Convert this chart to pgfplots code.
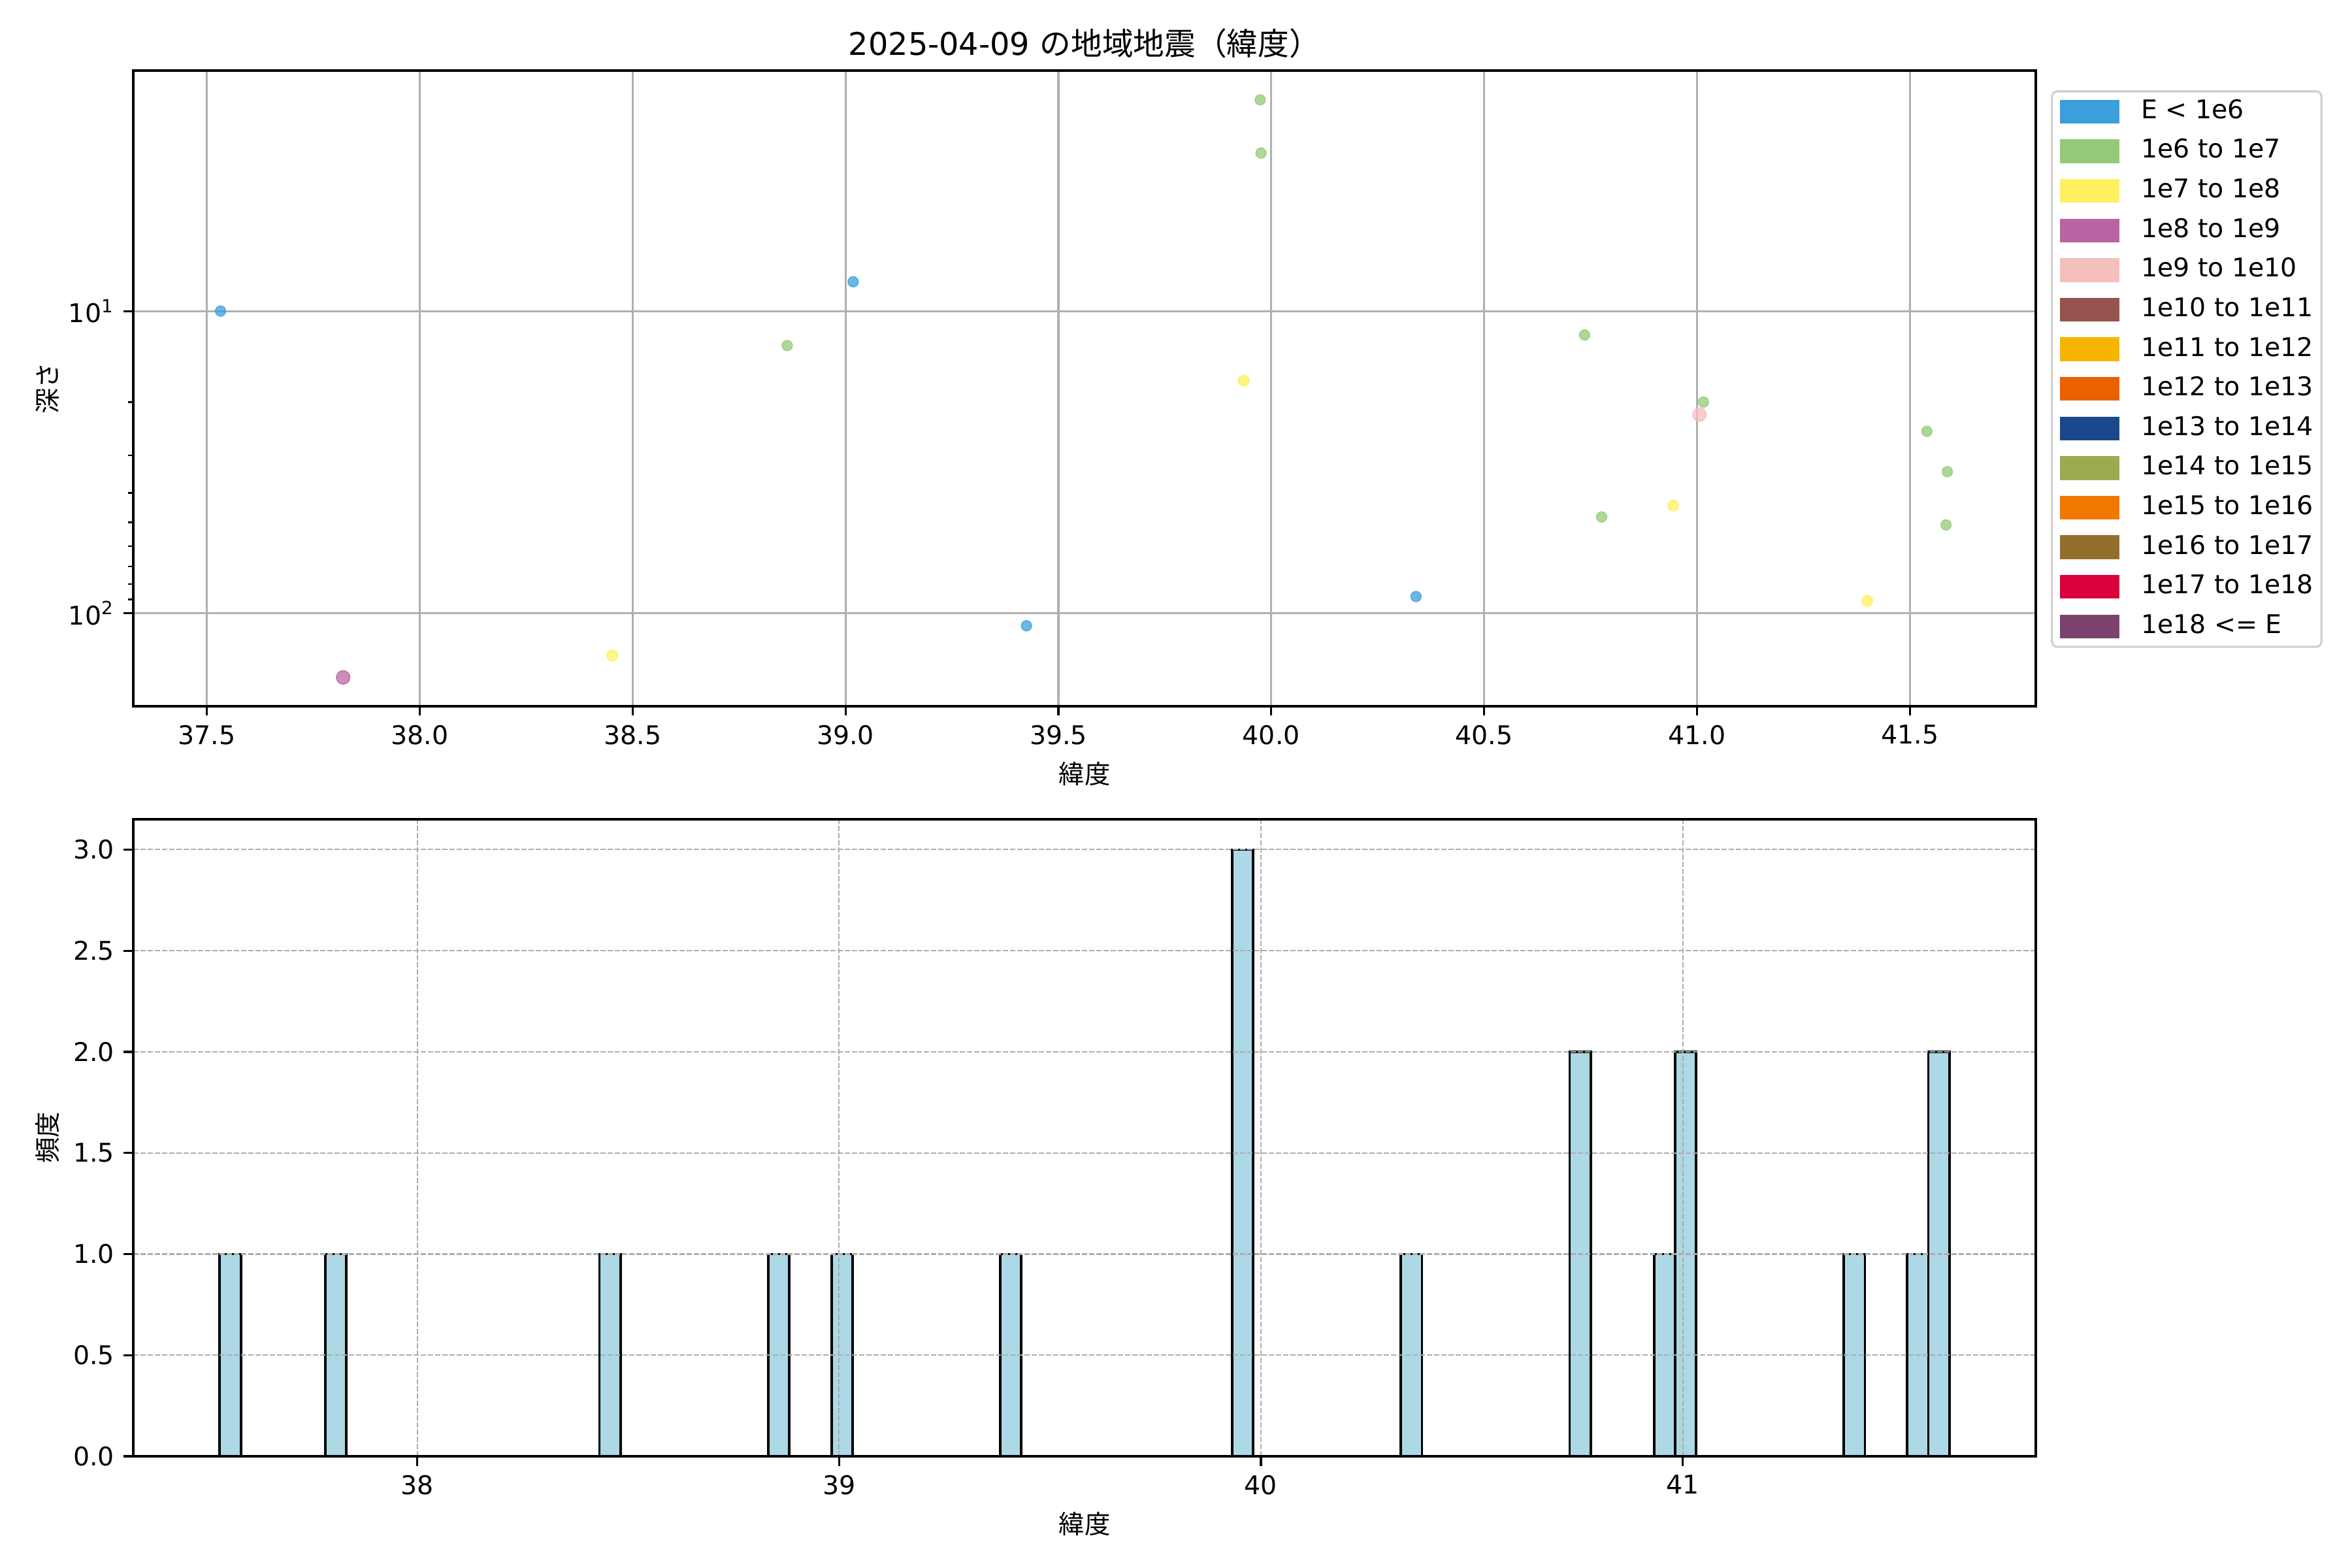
\documentclass[border=0pt]{standalone}
\usepackage{fontspec}
\setmainfont{DejaVu Sans}
\newfontfamily\jp{Noto Sans CJK JP}
\usepackage{pgfplots}
\pgfplotsset{compat=1.18}
\usepgfplotslibrary{statistics}

\definecolor{cA}{HTML}{3A9FDB}
\definecolor{cB}{HTML}{94CA77}
\definecolor{cC}{HTML}{FEF05F}
\definecolor{cD}{HTML}{BC64A3}
\definecolor{cE}{HTML}{F5BFBB}
\definecolor{cF}{HTML}{96524D}
\definecolor{cG}{HTML}{F7B500}
\definecolor{cH}{HTML}{EB6000}
\definecolor{cI}{HTML}{1B488D}
\definecolor{cJ}{HTML}{9BAB4F}
\definecolor{cK}{HTML}{F07700}
\definecolor{cL}{HTML}{946F2C}
\definecolor{cM}{HTML}{D9003B}
\definecolor{cN}{HTML}{7B426F}
\definecolor{histblue}{HTML}{ADD8E6}
\definecolor{gridgray}{HTML}{B0B0B0}

% lat, depth (km), energy class
\pgfplotstableread{
lat depth cls
37.532 10 a
37.82 163 d
38.452 138 c
38.863 13.0 b
39.018 8.0 a
39.425 110 a
39.935 17 c
39.974 2.0 b
39.976 3.0 b
40.340 88 a
40.736 12.0 b
40.776 48 b
40.944 44 c
41.006 22 e
41.015 20 b
41.40 91 c
41.54 25 b
41.585 51 b
41.588 34 b
}\quakes

\newcommand\patch[2]{\addlegendimage{legend image code/.code={\fill[#1, sharp corners] (0cm,-0.14cm) rectangle (0.74cm,0.14cm);}}\addlegendentry{#2}}

\pgfplotsset{
  base/.style={
    scale only axis,
    width=9.707in,
    font=\fontsize{9.5}{11.4}\selectfont,
    axis line style={line width=0.8pt},
    tick style={line width=0.8pt, black},
    major tick length=3.5pt,
    minor tick length=2pt,
    minor tick style={line width=0.6pt},
    tick align=outside,
    xtick pos=left, ytick pos=left,
    /pgf/number format/assume math mode=true,
    xlabel={\jp 緯度},
    every axis x label/.style={at={(0.5,0)}, anchor=north, yshift=-17pt},
    every axis y label/.style={at={(-0.045,0.5)}, rotate=90, anchor=center},
  }
}

\begin{document}
\begin{tikzpicture}
\begin{axis}[
  base,
  height=3.243in,
  at={(0,0)}, anchor=north west,
  title={2025-04-09 {\jp の地域地震（緯度）}},
  title style={font=\fontsize{11.5}{13}\selectfont, yshift=-5pt},
  ylabel={\jp 深さ},
  xmin=37.327, xmax=41.796,
  ymode=log, y dir=reverse,
  ymin=1.6, ymax=203,
  xtick={37.5,38,38.5,39,39.5,40,40.5,41,41.5},
  xticklabel style={/pgf/number format/.cd, fixed, fixed zerofill, precision=1},
  ytick={10,100},
  yticklabels={10\textsuperscript{1},10\textsuperscript{2}},
  grid=major,
  major grid style={line width=0.8pt, gridgray},
  legend style={at={(1.0079,0.969)}, anchor=north west,
    draw=black!18, line width=0.8pt, rounded corners=2pt,
    font=\fontsize{9.5}{11.4}\selectfont,
    inner xsep=3pt, inner ysep=3pt,
    row sep=5.6pt, column sep=8pt,
    nodes={inner sep=0pt, text height=7pt, text depth=2pt}},
  legend cell align=left,
]
\addplot[
  forget plot,
  scatter, only marks,
  point meta=explicit symbolic,
  scatter/classes={
    a={mark=*, mark size=1.9pt, draw=cA, fill=cA},
    b={mark=*, mark size=1.9pt, draw=cB, fill=cB},
    c={mark=*, mark size=2.0pt, draw=cC, fill=cC},
    d={mark=*, mark size=2.5pt, draw=cD, fill=cD},
    e={mark=*, mark size=2.5pt, draw=cE, fill=cE}},
  fill opacity=0.75, draw opacity=0.75,
] table[x=lat, y=depth, meta=cls] {\quakes};

\patch{cA}{E < 1e6}
\patch{cB}{1e6 to 1e7}
\patch{cC}{1e7 to 1e8}
\patch{cD}{1e8 to 1e9}
\patch{cE}{1e9 to 1e10}
\patch{cF}{1e10 to 1e11}
\patch{cG}{1e11 to 1e12}
\patch{cH}{1e12 to 1e13}
\patch{cI}{1e13 to 1e14}
\patch{cJ}{1e14 to 1e15}
\patch{cK}{1e15 to 1e16}
\patch{cL}{1e16 to 1e17}
\patch{cM}{1e17 to 1e18}
\patch{cN}{1e18 <= E}
\end{axis}

\begin{axis}[
  base,
  height=3.25in,
  at={(0,-3.82in)}, anchor=north west,
  ylabel={\jp 頻度},
  xmin=37.327, xmax=41.837,
  ymin=0, ymax=3.15,
  xtick={38,39,40,41},
  ytick={0,0.5,1,1.5,2,2.5,3},
  yticklabel style={/pgf/number format/.cd, fixed, fixed zerofill, precision=1},
  grid=major,
  major grid style={line width=0.5pt, black!32, dash pattern=on 1.85pt off 0.8pt},
  axis on top,
]
\addplot[
  hist={data min=37.532, data max=41.632, bins=82},
  fill=histblue, draw=black, line width=0.9pt,
] table[y=lat] {\quakes};
\end{axis}

\pgfresetboundingbox
\path[use as bounding box] (-0.68in,0.36in) rectangle (11.32in,-7.64in);
\end{tikzpicture}
\end{document}
